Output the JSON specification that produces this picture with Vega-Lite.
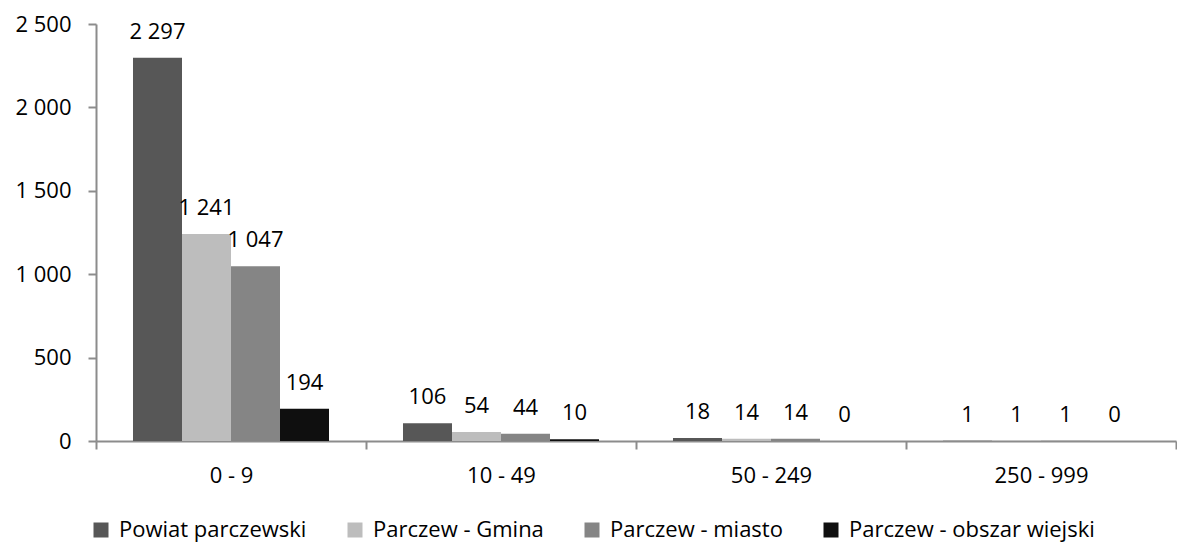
{
  "$schema": "https://vega.github.io/schema/vega-lite/v6.json",
  "width": 1080,
  "height": 417,
  "autosize": {"type": "none"},
  "padding": {"left": 96, "top": 24, "right": 1, "bottom": 102},
  "background": "#ffffff",
  "config": {
    "view": {"stroke": null},
    "font": "Open Sans",
    "locale": {"number": {"decimal": ",", "thousands": " ", "grouping": [3], "currency": ["", " zł"]}}
  },
  "data": {
    "values": [
      {"kategoria": "0 - 9", "seria": "Powiat parczewski", "wartosc": 2297},
      {"kategoria": "0 - 9", "seria": "Parczew - Gmina", "wartosc": 1241},
      {"kategoria": "0 - 9", "seria": "Parczew - miasto", "wartosc": 1047},
      {"kategoria": "0 - 9", "seria": "Parczew - obszar wiejski", "wartosc": 194},
      {"kategoria": "10 - 49", "seria": "Powiat parczewski", "wartosc": 106},
      {"kategoria": "10 - 49", "seria": "Parczew - Gmina", "wartosc": 54},
      {"kategoria": "10 - 49", "seria": "Parczew - miasto", "wartosc": 44},
      {"kategoria": "10 - 49", "seria": "Parczew - obszar wiejski", "wartosc": 10},
      {"kategoria": "50 - 249", "seria": "Powiat parczewski", "wartosc": 18},
      {"kategoria": "50 - 249", "seria": "Parczew - Gmina", "wartosc": 14},
      {"kategoria": "50 - 249", "seria": "Parczew - miasto", "wartosc": 14},
      {"kategoria": "50 - 249", "seria": "Parczew - obszar wiejski", "wartosc": 0},
      {"kategoria": "250 - 999", "seria": "Powiat parczewski", "wartosc": 1},
      {"kategoria": "250 - 999", "seria": "Parczew - Gmina", "wartosc": 1},
      {"kategoria": "250 - 999", "seria": "Parczew - miasto", "wartosc": 1},
      {"kategoria": "250 - 999", "seria": "Parczew - obszar wiejski", "wartosc": 0}
    ]
  },
  "encoding": {
    "x": {
      "field": "kategoria",
      "type": "nominal",
      "sort": ["0 - 9", "10 - 49", "50 - 249", "250 - 999"],
      "scale": {"paddingInner": 0, "paddingOuter": 0},
      "axis": {
        "title": null,
        "labelAngle": 0,
        "tickBand": "extent",
        "domainColor": "#8c8c8c",
        "domainWidth": 2,
        "tickColor": "#8c8c8c",
        "tickWidth": 2,
        "tickSize": 8,
        "labelFontSize": 22,
        "labelColor": "#000000",
        "labelPadding": 16
      }
    },
    "xOffset": {
      "field": "seria",
      "type": "nominal",
      "sort": ["Powiat parczewski", "Parczew - Gmina", "Parczew - miasto", "Parczew - obszar wiejski"],
      "scale": {"paddingInner": 0, "paddingOuter": 0.755}
    },
    "y": {
      "field": "wartosc",
      "type": "quantitative",
      "scale": {"domain": [0, 2500], "nice": false},
      "axis": {
        "title": null,
        "values": [0, 500, 1000, 1500, 2000, 2500],
        "format": ",d",
        "grid": false,
        "domainColor": "#8c8c8c",
        "domainWidth": 2,
        "tickColor": "#8c8c8c",
        "tickWidth": 2,
        "tickSize": 8,
        "labelFontSize": 22,
        "labelColor": "#000000",
        "labelPadding": 17
      }
    }
  },
  "layer": [
    {
      "mark": {"type": "bar"},
      "encoding": {
        "color": {
          "field": "seria",
          "type": "nominal",
          "sort": ["Powiat parczewski", "Parczew - Gmina", "Parczew - miasto", "Parczew - obszar wiejski"],
          "scale": {
            "domain": ["Powiat parczewski", "Parczew - Gmina", "Parczew - miasto", "Parczew - obszar wiejski"],
            "range": ["#575757", "#bdbdbd", "#858585", "#0f0f0f"]
          },
          "legend": {
            "title": null,
            "orient": "none",
            "direction": "horizontal",
            "legendX": -6,
            "legendY": 495,
            "symbolType": "square",
            "symbolSize": 225,
            "symbolStrokeWidth": 0,
            "symbolOpacity": 1,
            "labelFontSize": 22,
            "labelColor": "#000000",
            "labelOffset": 7,
            "labelLimit": 0,
            "columnPadding": 37,
            "padding": 0
          }
        }
      }
    },
    {
      "mark": {"type": "text", "baseline": "alphabetic", "dy": -19, "fontSize": 22, "color": "#000000"},
      "encoding": {
        "text": {"field": "wartosc", "type": "quantitative", "format": ",d"}
      }
    }
  ]
}
